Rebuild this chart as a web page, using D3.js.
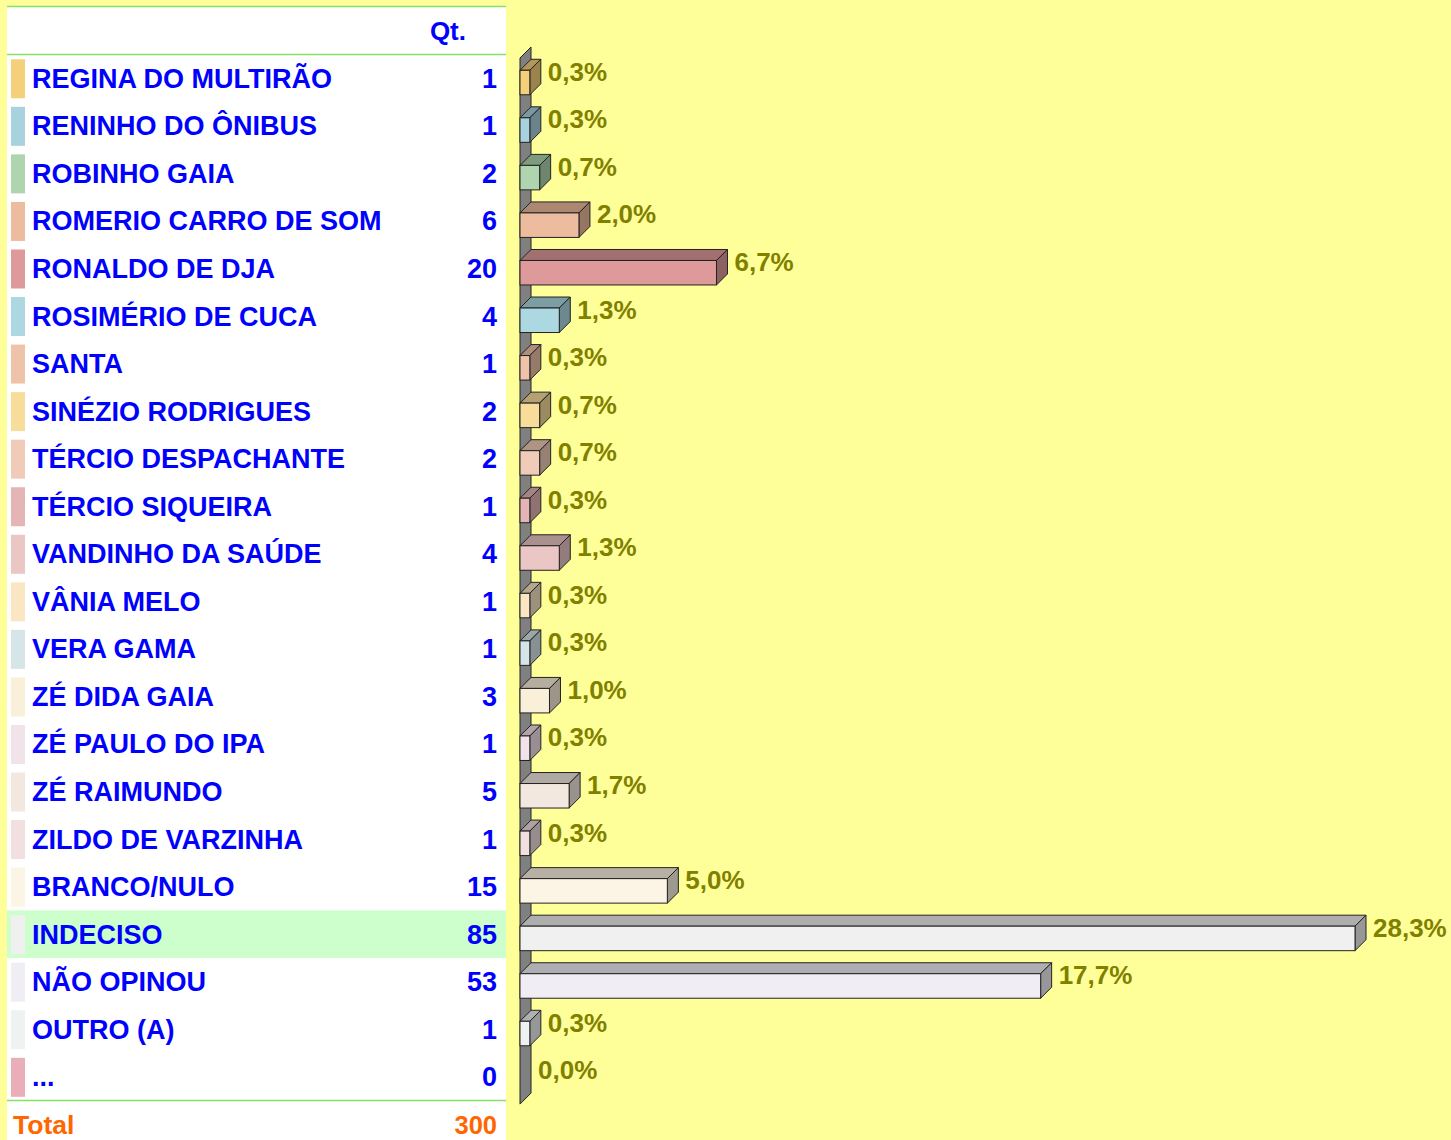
<!DOCTYPE html>
<html lang="pt">
  <head>
    <meta charset="utf-8">
    <title>Qt.</title>
    <script src="https://d3js.org/d3.v7.js"></script>
    <style>
      body { margin: 0; background: #FFFF99; }
      text { font-family: "Liberation Sans", Arial, sans-serif; font-weight: bold; }
    </style>
  </head>

  <body>

  <script>

// Data

  var names = ["REGINA DO MULTIRÃO", "RENINHO DO ÔNIBUS", "ROBINHO GAIA",
    "ROMERIO CARRO DE SOM", "RONALDO DE DJA", "ROSIMÉRIO DE CUCA", "SANTA",
    "SINÉZIO RODRIGUES", "TÉRCIO DESPACHANTE", "TÉRCIO SIQUEIRA",
    "VANDINHO DA SAÚDE", "VÂNIA MELO", "VERA GAMA", "ZÉ DIDA GAIA",
    "ZÉ PAULO DO IPA", "ZÉ RAIMUNDO", "ZILDO DE VARZINHA", "BRANCO/NULO",
    "INDECISO", "NÃO OPINOU", "OUTRO (A)", "..."];
  var counts = [1, 1, 2, 6, 20, 4, 1, 2, 2, 1, 4, 1, 1, 3, 1, 5, 1, 15, 85, 53, 1, 0];
  var colors = ["#F5D07A", "#A8D2DE", "#AED5AE", "#EDBB9E", "#DE9A9A", "#ADD8E2",
    "#EFC3AA", "#F8DC9A", "#F0CCB8", "#E5B5B5", "#EAC6C5", "#FAE6C3",
    "#D6E5E8", "#FAEFD8", "#F2E2EA", "#F3E8E0", "#F2E0E0", "#FCF4E4",
    "#F0F0F0", "#F0EEF4", "#EEF2F0", "#EAAEB8"];
  var highlighted = "INDECISO";
  var total = 300;

  var w = 1451;
  var h = 1140;
  var depth = 11;
  var barLeft = 520;
  var fmt = v => d3.format(".1f")(v).replace(".", ",") + "%";

  var svg = d3.select("body")
    .append("svg")
      .attr("width", w)
      .attr("height", h);

  svg.append("rect")
      .attr("width", w)
      .attr("height", h)
      .attr("fill", "#FFFF99");

// Scales

  var yScale = d3.scaleBand()
      .domain(names)
      .range([54.5, 54.5 + 47.55 * names.length]);

  var xScale = d3.scaleLinear()
      .domain([0, d3.max(counts)])
      .range([0, 835]);

  var data = names.map((name, i) => ({name, value: counts[i], color: colors[i]}));
  var cy = d => yScale(d.name) + yScale.bandwidth() / 2;

// Table panel

  svg.append("rect")
      .attr("x", 7)
      .attr("y", 6)
      .attr("width", 499)
      .attr("height", h - 6)
      .attr("fill", "white");

  svg.append("rect")
      .attr("x", 7)
      .attr("y", yScale(highlighted))
      .attr("width", 499)
      .attr("height", yScale.bandwidth())
      .attr("fill", "#CCFFCC");

  var lines = [6.5, yScale.range()[0], yScale.range()[1]];
  svg.selectAll("line.sep")
    .data(lines)
    .enter().append("line")
      .attr("class", "sep")
      .attr("x1", 7)
      .attr("x2", 506)
      .attr("y1", d => d)
      .attr("y2", d => d)
      .attr("stroke", "#88E066")
      .attr("stroke-width", 1.5);

  svg.append("text")
      .attr("x", 466)
      .attr("y", 39.5)
      .attr("text-anchor", "end")
      .attr("font-size", 26)
      .attr("fill", "#0000FF")
      .text("Qt.");

  var rows = svg.append("g")
    .selectAll("g")
    .data(data)
    .enter().append("g");

  rows.append("rect")
      .attr("x", 11)
      .attr("y", d => cy(d) - 19)
      .attr("width", 14)
      .attr("height", 39)
      .attr("fill", d => d.color);

  rows.append("text")
      .attr("x", 32)
      .attr("y", d => cy(d) + 9.5)
      .attr("font-size", 27)
      .attr("fill", "#0000FF")
      .text(d => d.name);

  rows.append("text")
      .attr("x", 497)
      .attr("y", d => cy(d) + 9.5)
      .attr("text-anchor", "end")
      .attr("font-size", 27)
      .attr("fill", "#0000FF")
      .text(d => d.value);

  svg.append("text")
      .attr("x", 13)
      .attr("y", yScale.range()[1] + 33)
      .attr("font-size", 26.5)
      .attr("fill", "#FF6600")
      .text("Total");

  svg.append("text")
      .attr("x", 497)
      .attr("y", yScale.range()[1] + 33)
      .attr("text-anchor", "end")
      .attr("font-size", 25.5)
      .attr("fill", "#FF6600")
      .text(total);

// 3D wall

  var wallTop = yScale.range()[0] + 3.5;
  var wallBottom = yScale.range()[1] + 3.5;
  svg.append("polygon")
      .attr("points", [[barLeft, wallTop], [barLeft + depth, wallTop - depth],
        [barLeft + depth, wallBottom - depth], [barLeft, wallBottom]].join(" "))
      .attr("fill", "#808080")
      .attr("stroke", "#222")
      .attr("stroke-width", 1);

// 3D bars

  var bars = svg.append("g")
    .selectAll("g")
    .data(data.filter(d => d.value > 0))
    .enter().append("g");

  var barTop = d => cy(d) - 8;
  var barBottom = d => cy(d) + 16.5;
  var barRight = d => barLeft + xScale(d.value);

  bars.append("polygon")
      .attr("points", d => [[barLeft, barTop(d)], [barLeft + depth, barTop(d) - depth],
        [barRight(d) + depth, barTop(d) - depth], [barRight(d), barTop(d)]].join(" "))
      .attr("fill", d => d3.color(d.color).darker(0.9))
      .attr("stroke", "#222");

  bars.append("polygon")
      .attr("points", d => [[barRight(d), barTop(d)], [barRight(d) + depth, barTop(d) - depth],
        [barRight(d) + depth, barBottom(d) - depth], [barRight(d), barBottom(d)]].join(" "))
      .attr("fill", d => d3.color(d.color).darker(1.3))
      .attr("stroke", "#222");

  bars.append("rect")
      .attr("x", barLeft)
      .attr("y", d => barTop(d))
      .attr("width", d => xScale(d.value))
      .attr("height", d => barBottom(d) - barTop(d))
      .attr("fill", d => d.color)
      .attr("stroke", "#222");

  svg.append("g")
    .selectAll("text")
    .data(data)
    .enter().append("text")
      .attr("x", d => barLeft + xScale(d.value) + depth + 7)
      .attr("y", d => cy(d) + 2.5)
      .attr("font-size", 26)
      .attr("fill", "#808000")
      .text(d => fmt(d.value / total * 100));

  </script>

  </body>

</html>
